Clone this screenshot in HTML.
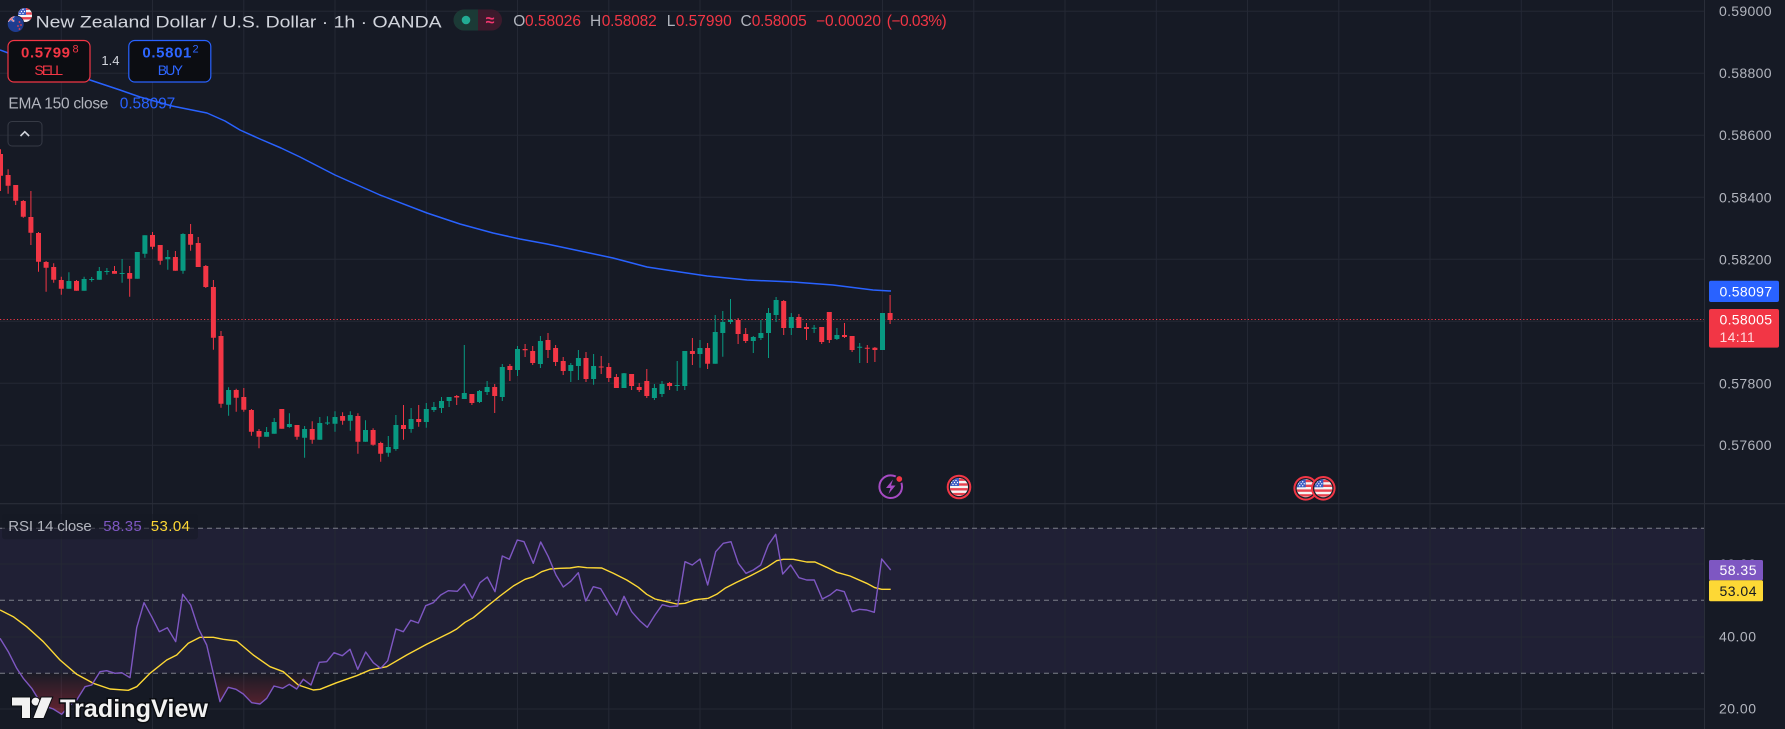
<!DOCTYPE html>
<html><head><meta charset="utf-8"><style>
html,body{margin:0;padding:0;background:#161a25;}
svg{display:block;font-family:"Liberation Sans",Arial,sans-serif;}
</style></head><body>
<svg width="1785" height="729" viewBox="0 0 1785 729" xmlns="http://www.w3.org/2000/svg">
<defs>
<linearGradient id="osg" x1="0" y1="673" x2="0" y2="716" gradientUnits="userSpaceOnUse">
<stop offset="0" stop-color="#f23645" stop-opacity="0.02"/>
<stop offset="1" stop-color="#f23645" stop-opacity="0.38"/>
</linearGradient>
<clipPath id="osclip"><rect x="0" y="673.3" width="900" height="60"/></clipPath>
<clipPath id="f1"><circle cx="959" cy="487" r="9"/></clipPath>
<clipPath id="f2"><circle cx="1305.7" cy="488.3" r="9"/></clipPath>
<clipPath id="f3"><circle cx="1323.3" cy="488.3" r="9"/></clipPath>
<clipPath id="fus"><circle cx="25" cy="15" r="7"/></clipPath>
<clipPath id="fnz"><circle cx="15.7" cy="24" r="8"/></clipPath>
<g id="usflag">
<rect x="-10" y="-10" width="20" height="20" fill="#f4f4f4"/>
<rect x="-10" y="-8.5" width="20" height="2.4" fill="#e8414e"/>
<rect x="-10" y="-3.7" width="20" height="2.4" fill="#e8414e"/>
<rect x="-10" y="1.1" width="20" height="2.4" fill="#e8414e"/>
<rect x="-10" y="5.9" width="20" height="2.4" fill="#e8414e"/>
<rect x="-10" y="-10" width="10" height="9" fill="#3b5bc4"/>
<g fill="#fff"><circle cx="-6" cy="-6.5" r="0.7"/><circle cx="-3" cy="-6.5" r="0.7"/><circle cx="-4.5" cy="-4.5" r="0.7"/><circle cx="-7.5" cy="-4.5" r="0.7"/><circle cx="-6" cy="-2.5" r="0.7"/><circle cx="-3" cy="-2.5" r="0.7"/><circle cx="-1.5" cy="-4.5" r="0.7"/></g>
</g>
</defs>

<!-- background -->
<rect x="0" y="0" width="1785" height="729" fill="#161a25"/>
<!-- RSI band -->
<rect x="0" y="528" width="1704" height="145.3" fill="#202035"/>

<!-- vertical gridlines -->
<g stroke="#242834" stroke-width="1">
<line x1="61.3" y1="0" x2="61.3" y2="729"/>
<line x1="152.5" y1="0" x2="152.5" y2="729"/>
<line x1="243.8" y1="0" x2="243.8" y2="729"/>
<line x1="335" y1="0" x2="335" y2="729"/>
<line x1="426.3" y1="0" x2="426.3" y2="729"/>
<line x1="517.5" y1="0" x2="517.5" y2="729"/>
<line x1="608.8" y1="0" x2="608.8" y2="729"/>
<line x1="700" y1="0" x2="700" y2="729"/>
<line x1="791.3" y1="0" x2="791.3" y2="729"/>
<line x1="882.5" y1="0" x2="882.5" y2="729"/>
<line x1="973.8" y1="0" x2="973.8" y2="729"/>
<line x1="1065" y1="0" x2="1065" y2="729"/>
<line x1="1156.3" y1="0" x2="1156.3" y2="729"/>
<line x1="1247.5" y1="0" x2="1247.5" y2="729"/>
<line x1="1338.8" y1="0" x2="1338.8" y2="729"/>
<line x1="1430" y1="0" x2="1430" y2="729"/>
<line x1="1521.3" y1="0" x2="1521.3" y2="729"/>
<line x1="1612.5" y1="0" x2="1612.5" y2="729"/>
<!-- horizontal main -->
<line x1="0" y1="11.3" x2="1704" y2="11.3"/>
<line x1="0" y1="73.3" x2="1704" y2="73.3"/>
<line x1="0" y1="135.3" x2="1704" y2="135.3"/>
<line x1="0" y1="197.3" x2="1704" y2="197.3"/>
<line x1="0" y1="259.3" x2="1704" y2="259.3"/>
<line x1="0" y1="321.3" x2="1704" y2="321.3"/>
<line x1="0" y1="383.3" x2="1704" y2="383.3"/>
<line x1="0" y1="445.3" x2="1704" y2="445.3"/>
<!-- horizontal RSI -->
<line x1="0" y1="564" x2="1704" y2="564"/>
<line x1="0" y1="637" x2="1704" y2="637"/>
<line x1="0" y1="709" x2="1704" y2="709"/>
</g>

<!-- separators -->
<line x1="1704.5" y1="0" x2="1704.5" y2="729" stroke="#2a2e39" stroke-width="1"/>
<line x1="0" y1="503.7" x2="1785" y2="503.7" stroke="#2a2e39" stroke-width="1.2"/>

<!-- EMA 150 -->
<polyline fill="none" stroke="#2962ff" stroke-width="1.5" stroke-linejoin="round" points="0,50 30,61 60,71 90,80 120,90 140,97 172,106 207,113 225,121 240,130 260,139 281,148 300,157 335,175 380,195 427,213 460,224 493,233 520,239 547,244 580,251 613,258 647,267 680,272 707,276 747,280 793,282 833,285 873,290 891,291"/>

<!-- price line -->
<line x1="0" y1="319.5" x2="1704" y2="319.5" stroke="#f23645" stroke-width="1" stroke-dasharray="1.2,2.2"/>

<!-- Candles: red wicks -->
<path fill="none" stroke="#f23645" stroke-width="1" d="M0.5 149.3V191 M8.1 169.3V193.7 M15.7 185V205 M23.3 200V217.7 M30.9 191V245 M38.5 232V271.7 M46.1 261V291.7 M53.7 263.3V282.7 M61.3 276.7V294.7 M76.5 280V290.7 M114.5 266V273.7 M129.7 266V296.7 M152.5 232V249.3 M160.2 245V264.7 M175.4 251V270.7 M190.6 224V250.7 M198.2 237V267 M205.8 265V288 M213.4 280V349.7 M221 331V407.7 M236.2 388.7V411.7 M243.8 388V411.7 M251.4 409V435.7 M259 429V448.3 M281.8 409V428.7 M297 425V439.7 M312.2 421.3V443.7 M342.6 412.3V424.7 M357.9 413.3V453.7 M373.1 428.3V445.7 M380.7 441.7V461.7 M403.5 405V439.7 M418.7 405V426.7 M456.7 395V405 M471.9 394V405 M494.7 384V413 M509.9 364V381 M525.1 344V357 M532.7 346V365 M548 333V358 M555.6 345V366 M563.2 357V375 M586 352V382 M601.2 356V374 M608.8 363V382 M616.4 374V388 M631.6 374V390 M639.2 383V392 M646.8 369V398 M669.6 382V390 M692.4 338V365 M707.6 343V369 M738.1 318V344 M745.7 328V343 M783.7 300V335 M798.9 314V328 M806.5 323V340 M821.7 327V344 M829.3 312V343 M844.5 323V338 M852.1 336V352 M867.3 345V363 M874.9 347V362 M890.1 295V324"/>
<!-- red bodies -->
<path fill="#f23645" d="M-2 154h5V175.7h-5Z M5.6 175h5V185.7h-5Z M13.2 185h5V200.7h-5Z M20.8 201h5V216.7h-5Z M28.4 217h5V232.7h-5Z M36 233h5V261.7h-5Z M43.6 262h5V267.7h-5Z M51.2 267h5V279.7h-5Z M58.8 280h5V288.7h-5Z M74 281h5V290.7h-5Z M112 271h5V273.7h-5Z M127.2 273h5V278.7h-5Z M150 235h5V246.7h-5Z M157.7 245h5V260.7h-5Z M172.9 257h5V270.7h-5Z M188.1 234h5V244.7h-5Z M195.7 243h5V267h-5Z M203.3 266h5V287h-5Z M210.9 287h5V337.7h-5Z M218.5 336h5V403.7h-5Z M233.7 390h5V397.7h-5Z M241.3 397h5V409.7h-5Z M248.9 410h5V431.7h-5Z M256.5 431h5V436.7h-5Z M279.3 409h5V428.7h-5Z M294.5 425h5V436.7h-5Z M309.7 429h5V439.7h-5Z M340.1 416h5V420.7h-5Z M355.4 416h5V441.7h-5Z M370.6 430h5V444.7h-5Z M378.2 443h5V453.7h-5Z M401 425h5V429h-5Z M416.2 419h5V422h-5Z M454.2 396h5V397.5h-5Z M469.4 394h5V403h-5Z M492.2 387h5V396h-5Z M507.4 366h5V370h-5Z M522.6 349h5V350.3h-5Z M530.2 351h5V363h-5Z M545.5 340h5V350h-5Z M553.1 348h5V362h-5Z M560.7 361h5V371h-5Z M583.5 358h5V379h-5Z M598.7 366.5h5V367.5h-5Z M606.3 367h5V378h-5Z M613.9 377h5V388h-5Z M629.1 374h5V386h-5Z M636.7 387h5V390h-5Z M644.3 381h5V396h-5Z M667.1 383h5V386h-5Z M689.9 351h5V354h-5Z M705.1 348h5V363.7h-5Z M735.6 320h5V334h-5Z M743.2 334h5V341h-5Z M781.2 301h5V328h-5Z M796.4 317h5V328h-5Z M804 327h5V329h-5Z M819.2 327h5V342h-5Z M826.8 312h5V340h-5Z M842 335h5V337h-5Z M849.6 336h5V350h-5Z M864.8 347.8h5V348.8h-5Z M872.4 347.7h5V350h-5Z M887.6 313h5V320h-5Z"/>
<!-- green wicks -->
<path fill="none" stroke="#089981" stroke-width="1" d="M68.9 272.3V288.7 M84.1 276.7V290.7 M91.7 277V281.7 M99.3 267V279.7 M106.9 268V274.7 M122.1 259V282.7 M137.3 252V278.7 M144.9 235.3V257.7 M167.8 250V269.7 M183 233.3V273.7 M228.6 387.3V415.7 M266.6 427V436.7 M274.2 418V433.7 M289.4 413.3V427.7 M304.6 426V457.7 M319.8 417V439.7 M327.4 416.3V425 M335 411.3V431.7 M350.3 411.3V430.7 M365.5 420.3V441.7 M388.3 436V456.7 M395.9 415V450.7 M411.1 408V432.7 M426.3 403V427.7 M433.9 402V412 M441.5 397V413 M449.1 397V407 M464.3 345V399 M479.5 390V403 M487.1 381V395 M502.3 364V401 M517.5 346V376 M540.4 336V368 M570.8 363V382 M578.4 350V380 M593.6 354V384.7 M624 373V388 M654.4 384V400 M662 381V397 M677.2 361V391 M684.8 351V390 M700 340V367.7 M715.2 315V363.7 M722.8 311V356.7 M730.5 299V324 M753.3 336V353 M760.9 320V340 M768.5 308V358 M776.1 297V322 M791.3 313V335 M814.1 325V333 M836.9 328V340 M859.7 343V363 M882.5 313V350"/>
<!-- green bodies -->
<path fill="#089981" d="M66.4 281h5V288.7h-5Z M81.6 279h5V290.7h-5Z M89.2 279h5V280h-5Z M96.8 271h5V279.7h-5Z M104.4 271h5V272h-5Z M119.6 273h5V274h-5Z M134.8 252h5V278.7h-5Z M142.4 235.3h5V253.7h-5Z M165.3 257h5V259.3h-5Z M180.5 234h5V270.7h-5Z M226.1 390h5V404.7h-5Z M264.1 432h5V436.7h-5Z M271.7 422h5V433.7h-5Z M286.9 424h5V427h-5Z M302.1 429h5V437.7h-5Z M317.3 423h5V439.7h-5Z M324.9 422.5h5V423.5h-5Z M332.5 417h5V423.7h-5Z M347.8 415h5V420.7h-5Z M363 430h5V441.7h-5Z M385.8 447h5V452.7h-5Z M393.4 425h5V449h-5Z M408.6 419h5V429h-5Z M423.8 409h5V422h-5Z M431.4 407h5V410h-5Z M439 401h5V408h-5Z M446.6 397h5V401h-5Z M461.8 393h5V399h-5Z M477 391h5V402h-5Z M484.6 387h5V392h-5Z M499.8 367h5V397h-5Z M515 349h5V370h-5Z M537.9 341h5V364h-5Z M568.3 365h5V371h-5Z M575.9 358h5V366h-5Z M591.1 366h5V379h-5Z M621.5 373.3h5V388h-5Z M651.9 388h5V398h-5Z M659.5 384h5V394h-5Z M674.7 385h5V386h-5Z M682.3 351h5V386h-5Z M697.5 348h5V354h-5Z M712.7 332h5V363.7h-5Z M720.3 322h5V333h-5Z M728 319.7h5V322h-5Z M750.8 337h5V341h-5Z M758.4 333h5V338h-5Z M766 313h5V333h-5Z M773.6 300h5V315h-5Z M788.8 317h5V328h-5Z M811.6 327.8h5V328.8h-5Z M834.4 335h5V339h-5Z M857.2 346.8h5V347.8h-5Z M880 313h5V350h-5Z"/>

<!-- RSI dashed levels -->
<g stroke="#7c7f8a" stroke-width="1" stroke-dasharray="5,4">
<line x1="0" y1="528.3" x2="1704" y2="528.3"/>
<line x1="0" y1="600.3" x2="1704" y2="600.3"/>
<line x1="0" y1="673.3" x2="1704" y2="673.3"/>
</g>

<!-- oversold fill -->
<polygon clip-path="url(#osclip)" fill="url(#osg)" points="0,638.3 8.3,651.7 16.7,668.3 23.3,678.3 31.7,688.3 40,701.7 46.7,706.7 53.3,709 61.7,714.3 70,705 76.7,700 85,686.7 91.7,685 100,671.7 106.7,670.7 115,673.3 121.7,672.7 130,677.7 136.7,627.7 144,602.7 151.7,616.7 159.3,631.7 167.3,627.7 175.7,641.7 182.7,594.3 190.7,605 198.3,628.3 206.7,645 213.3,673.3 220,701.7 228.3,687.3 236,689.3 243.3,694 251.7,702.7 260,704 266.7,698.3 274,686 282.7,688.3 289.3,684.3 296.7,689 303.3,679.3 311,685 319.3,662.3 326.7,661.7 334,652.7 334,673.3 0,673.3"/>

<!-- RSI MA (yellow) -->
<polyline fill="none" stroke="#fdd835" stroke-width="1.4" stroke-linejoin="round" points="0,610 13.3,616.7 26.7,626.7 43.3,641.7 60,660 76.7,674.3 93.3,683.3 110,689 128.3,690.3 136.7,686.7 150,673.3 166.7,660 176.7,655 188.3,643.3 200,637.3 213.3,637.3 223.3,639.3 236.7,641 253.3,655 270,666.7 283.3,671.7 298.3,685 313.3,690 320,689.3 336.7,682.7 356.7,675.7 370,670 386.7,666.7 406.7,655 426.7,644.3 450,632.7 456.7,629 465,622.3 473.3,617.7 486.7,606.7 500,596 513.3,586 525,579.3 533.3,576.7 541.7,571.7 550,569 560,568.3 570,568 578.3,566.7 586.7,567.7 601.7,568 613.3,573.3 626.7,580 638.3,587.3 646.7,594.3 655,599 666.7,601.7 676.7,604 685,603.3 695,599.7 708.3,598.3 716.7,594.3 725,588.3 736.7,582.3 750,576 766.7,567.3 776.7,560.7 783.3,559.3 793.3,559.3 806.7,562 815,562 826.7,567.3 836.7,572.3 850,576 866.7,583.3 875,587.7 881.7,589.3 890.7,589.3"/>
<!-- RSI line (purple) -->
<polyline fill="none" stroke="#7e57c2" stroke-width="1.4" stroke-linejoin="round" points="0,638.3 8.3,651.7 16.7,668.3 23.3,678.3 31.7,688.3 40,701.7 46.7,706.7 53.3,709 61.7,714.3 70,705 76.7,700 85,686.7 91.7,685 100,671.7 106.7,670.7 115,673.3 121.7,672.7 130,677.7 136.7,627.7 144,602.7 151.7,616.7 159.3,631.7 167.3,627.7 175.7,641.7 182.7,594.3 190.7,605 198.3,628.3 206.7,645 213.3,673.3 220,701.7 228.3,687.3 236,689.3 243.3,694 251.7,702.7 260,704 266.7,698.3 274,686 282.7,688.3 289.3,684.3 296.7,689 303.3,679.3 311,685 319.3,662.3 326.7,661.7 334,652.7 342.3,655.7 350,649.3 357.7,669.3 365.7,652 373.3,662.7 380.7,668.3 387.7,660.7 396,629 403.3,631.7 410.7,620.3 418.3,623 425.7,605.7 433.3,602.7 440.7,595 448.3,590.7 457.3,591.3 464.3,584 472.3,598.3 480,582.7 487.3,577 495,591.7 502.3,556 509.3,559.3 517.3,540 524,541.7 533.3,563.3 540.7,542 548.3,556.7 556,575 563.3,587 570.7,581.3 578.3,572.7 585.7,601 593.3,586.7 600.7,588.7 609.3,603.3 616.7,615 624,596.3 631.7,611.7 640,621 647.3,627.3 655,615 662.3,604.7 670,606.7 677.7,606 685,561.7 692.3,565 700,559 707.7,585 715.7,551.7 723.3,543.3 731,541.7 738.3,563.3 746,573.3 753.3,570 760.7,565 768.3,545 775.7,534.3 782.7,574 790.7,565 799,577.7 806.7,580 814.3,580 822.3,599 830,595 836.7,589.7 844.3,591.7 852.3,611.7 859.3,609.3 866.7,610 874.3,612.3 881.7,559 890.7,570"/>

<!-- event icons -->
<circle cx="890.7" cy="486.7" r="11.3" fill="#161a25" stroke="#a64bc4" stroke-width="2"/>
<path d="M893 479.5 L886 488 H890.5 L888.5 494 L895.5 485.5 H891 Z" fill="#a64bc4"/>
<circle cx="899.3" cy="479" r="3.6" fill="#f23645" stroke="#161a25" stroke-width="1.5"/>

<circle cx="959" cy="487" r="12.3" fill="#f23645"/>
<circle cx="959" cy="487" r="10.3" fill="#1a1d28"/>
<g clip-path="url(#f1)"><use href="#usflag" x="959" y="487"/></g>

<circle cx="1305.7" cy="488.3" r="12.3" fill="#f23645"/>
<circle cx="1305.7" cy="488.3" r="10.3" fill="#1a1d28"/>
<g clip-path="url(#f2)"><use href="#usflag" x="1305.7" y="488.3"/></g>
<circle cx="1323.3" cy="488.3" r="12.3" fill="#f23645"/>
<circle cx="1323.3" cy="488.3" r="10.3" fill="#1a1d28"/>
<g clip-path="url(#f3)"><use href="#usflag" x="1323.3" y="488.3"/></g>

<!-- header: symbol flags -->
<circle cx="25" cy="15" r="7" fill="#f4f4f4"/>
<g clip-path="url(#fus)"><use href="#usflag" x="26" y="16" transform="scale(1)"/></g>
<circle cx="15.7" cy="24" r="8.6" fill="#161a25"/>
<circle cx="15.7" cy="24" r="8" fill="#1e3c8f"/>
<g clip-path="url(#fnz)">
<rect x="7" y="15" width="8" height="7" fill="#2a4aa8"/>
<path d="M7.7 16 L14 21.5 M14 16 L7.7 21.5" stroke="#f4f4f4" stroke-width="1.6"/>
<path d="M7.7 16 L14 21.5 M14 16 L7.7 21.5" stroke="#e8414e" stroke-width="0.7"/>
<circle cx="19.5" cy="22" r="0.9" fill="#e8414e"/><circle cx="21" cy="25" r="0.9" fill="#e8414e"/><circle cx="18" cy="26" r="0.9" fill="#e8414e"/><circle cx="19.5" cy="29" r="0.9" fill="#e8414e"/>
</g>

<!-- title -->
<text x="35.6" y="27.3" font-size="17" fill="#d1d4dc" textLength="406" lengthAdjust="spacingAndGlyphs">New Zealand Dollar / U.S. Dollar · 1h · OANDA</text>

<!-- pill -->
<rect x="453.5" y="9.5" width="48.5" height="21" rx="10.5" fill="#3d1a2c"/>
<path d="M464 9.5 H478 V30.5 H464 A10.5 10.5 0 0 1 464 9.5 Z" fill="#1b3a36"/>
<circle cx="466" cy="20" r="4.3" fill="#22ab94"/>
<text x="490" y="25.5" font-size="16" fill="#f2366f" text-anchor="middle" font-weight="bold">≈</text>

<!-- OHLC -->
<g font-size="15.5">
<text x="513.3" y="26" fill="#b2b5be">O</text>
<text x="525" y="26" fill="#f23645" textLength="56">0.58026</text>
<text x="590" y="26" fill="#b2b5be">H</text>
<text x="601.7" y="26" fill="#f23645" textLength="55">0.58082</text>
<text x="666.7" y="26" fill="#b2b5be">L</text>
<text x="675.7" y="26" fill="#f23645" textLength="56">0.57990</text>
<text x="740.5" y="26" fill="#b2b5be">C</text>
<text x="751.7" y="26" fill="#f23645" textLength="55">0.58005</text>
<text x="816" y="26" fill="#f23645" textLength="65">−0.00020</text>
<text x="886.7" y="26" fill="#f23645" textLength="60">(−0.03%)</text>
</g>

<!-- SELL / BUY -->
<rect x="8" y="40.5" width="82" height="41.5" rx="6" fill="#0c0d12" stroke="#f23645" stroke-width="1.2"/>
<text x="21" y="57.3" font-size="15" font-weight="bold" fill="#f23645" textLength="49">0.5799</text>
<text x="72.5" y="52.5" font-size="11" fill="#f23645">8</text>
<text x="34.4" y="75" font-size="14" fill="#f23645" textLength="28.6">SELL</text>
<text x="101.4" y="65" font-size="13" fill="#d1d4dc">1.4</text>
<rect x="128.8" y="40.5" width="82" height="41.5" rx="6" fill="#0c0d12" stroke="#2962ff" stroke-width="1.2"/>
<text x="142.4" y="57.3" font-size="15" font-weight="bold" fill="#2e66ff" textLength="49">0.5801</text>
<text x="192.5" y="52.5" font-size="11" fill="#2e66ff">2</text>
<text x="157.7" y="75" font-size="14" fill="#2e66ff" textLength="25.3">BUY</text>

<!-- EMA legend -->
<text x="8.4" y="108.3" font-size="15.5" fill="#b2b5be" textLength="100">EMA 150 close</text>
<text x="119.8" y="108.3" font-size="15.5" fill="#2962ff" textLength="55.5">0.58097</text>

<!-- collapse button -->
<rect x="8" y="121.5" width="34" height="24.5" rx="4" fill="none" stroke="#363a45" stroke-width="1"/>
<polyline points="20.5,136 24.8,131.7 29.1,136" fill="none" stroke="#d1d4dc" stroke-width="1.6"/>

<!-- RSI legend -->
<rect x="2" y="514" width="196" height="25.3" rx="3" fill="#161a25" opacity="0.55"/>
<text x="8.3" y="531" font-size="15" fill="#b2b5be" textLength="83.4">RSI 14 close</text>
<text x="103.3" y="531" font-size="15" fill="#7e57c2" textLength="38.4">58.35</text>
<text x="150.7" y="531" font-size="15" fill="#fdd835" textLength="39.3">53.04</text>

<!-- TradingView logo -->
<g fill="#f2f2f2" stroke="#0b0d12" stroke-width="2" paint-order="stroke">
<path d="M12 697.5 H30 V718 H22 V705.5 H12 Z"/>
<circle cx="35.6" cy="701.6" r="4"/>
<path d="M41.5 697.5 H52 L43.5 718 H33.5 Z"/>
<text x="60" y="717" font-size="25" font-weight="bold" textLength="148" lengthAdjust="spacingAndGlyphs" stroke-width="3">TradingView</text>
</g>

<!-- right axis labels -->
<g font-size="14" fill="#b2b5be">
<text x="1719" y="16" textLength="52.5">0.59000</text>
<text x="1719" y="78" textLength="52.5">0.58800</text>
<text x="1719" y="140.2" textLength="52.5">0.58600</text>
<text x="1719" y="202.5" textLength="52.5">0.58400</text>
<text x="1719" y="264.3" textLength="52.5">0.58200</text>
<text x="1719" y="326" textLength="52.5">0.58000</text>
<text x="1719" y="388.4" textLength="52.5">0.57800</text>
<text x="1719" y="450.2" textLength="52.5">0.57600</text>
<text x="1719" y="569" textLength="37">60.00</text>
<text x="1719" y="641.5" textLength="37">40.00</text>
<text x="1719" y="713.6" textLength="37">20.00</text>
</g>

<!-- price labels -->
<rect x="1709" y="280.7" width="70" height="21.3" rx="2" fill="#2962ff"/>
<text x="1719.5" y="296.3" font-size="14" fill="#ffffff" textLength="52.5">0.58097</text>
<rect x="1709" y="309" width="70" height="38.6" rx="2" fill="#f23645"/>
<text x="1719.5" y="324.5" font-size="14" fill="#ffffff" textLength="52.5">0.58005</text>
<text x="1719.5" y="342" font-size="14" fill="#ffd9dc" textLength="35.3">14:11</text>
<rect x="1709" y="560" width="54" height="20.3" rx="1.5" fill="#7e57c2"/>
<text x="1719.5" y="575.2" font-size="14" fill="#ffffff" textLength="37">58.35</text>
<rect x="1709" y="580.3" width="54" height="21" rx="1.5" fill="#fdd835"/>
<text x="1719.5" y="595.8" font-size="14" fill="#131722" textLength="37">53.04</text>
</svg>
</body></html>
